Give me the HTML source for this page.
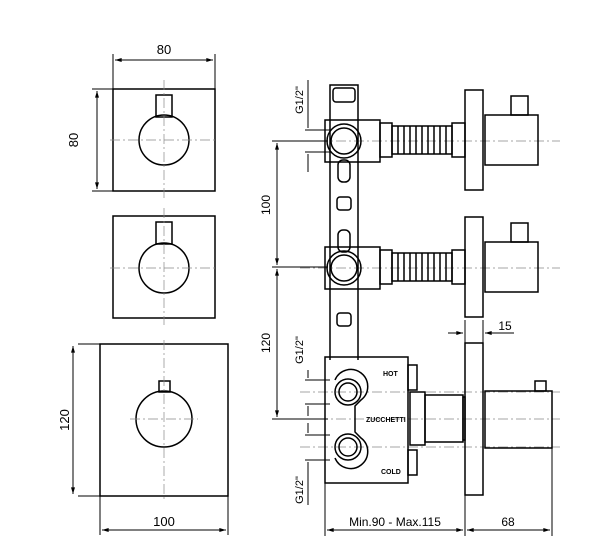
<!DOCTYPE html>
<html><head><meta charset="utf-8"><style>
html,body{margin:0;padding:0;background:#fff}
svg{display:block}
text{font-family:"Liberation Sans",sans-serif;fill:#000}
</style></head><body>
<svg width="616" height="547" viewBox="0 0 616 547" xmlns="http://www.w3.org/2000/svg">
<defs>
<marker id="a" viewBox="0 0 10 6" refX="10" refY="3" markerWidth="8" markerHeight="4" orient="auto-start-reverse"><path d="M0,0 L10,3 L0,6z" fill="#000"/></marker>
</defs>
<g fill="none" stroke="#000" stroke-width="1.5">
<!-- left squares -->
<rect x="113" y="89" width="102" height="102"/>
<circle cx="164" cy="140" r="25"/>
<rect x="156" y="95" width="16" height="22"/>
<rect x="113" y="216" width="102" height="102"/>
<circle cx="164" cy="268" r="25"/>
<rect x="156" y="222" width="16" height="22"/>
<rect x="100" y="344" width="128" height="152"/>
<circle cx="164" cy="419" r="28"/>
<rect x="159" y="381" width="11" height="11"/>
</g>
<g stroke="#888" stroke-width="0.7" stroke-dasharray="10,3,2,3" fill="none">
<path d="M164 80V200M110 140H218M164 208V325M110 268H218M164 340V500M130 419H198"/>
<path d="M300 141H560M300 268H560M300 392H560M300 447H560M300 419H560"/>
</g>
<!-- dimensions left -->
<g stroke="#000" stroke-width="1" fill="none">
<path d="M113 54V89M215 54V89M92 89H113M92 191H113M78 344H100M78 496H100M100 496V535M228 496V535"/>
<path d="M115 60H213" marker-start="url(#a)" marker-end="url(#a)"/>
<path d="M97 91V189" marker-start="url(#a)" marker-end="url(#a)"/>
<path d="M73 346V494" marker-start="url(#a)" marker-end="url(#a)"/>
<path d="M102 530H226" marker-start="url(#a)" marker-end="url(#a)"/>
</g>
<text x="164" y="54" font-size="13" text-anchor="middle">80</text>
<text x="0" y="0" font-size="13" text-anchor="middle" transform="translate(78,140) rotate(-90)">80</text>
<text x="0" y="0" font-size="13" text-anchor="middle" transform="translate(69,420) rotate(-90)">120</text>
<text x="164" y="526" font-size="13" text-anchor="middle">100</text>
<!-- right valve -->
<g fill="none" stroke="#000" stroke-width="1.5">
<path d="M330 360V85H358V360"/>
<rect x="333" y="88" width="22" height="14" rx="3"/>
<rect x="337" y="197" width="14" height="13" rx="3"/>
<rect x="337" y="313" width="14" height="13" rx="3"/>
<rect x="338" y="160" width="12" height="22" rx="5"/>
<rect x="338" y="230" width="12" height="22" rx="5"/>
<rect x="325" y="120" width="55" height="42"/>
<circle cx="344" cy="141" r="17"/><circle cx="344" cy="141" r="13"/>
<rect x="380" y="123" width="12" height="34"/>
<rect x="392" y="126" width="60" height="28"/>
<path d="M398 126V154M404 126V154M410 126V154M416 126V154M422 126V154M428 126V154M434 126V154M440 126V154M446 126V154"/>
<rect x="452" y="123" width="13" height="34"/>
<rect x="465" y="90" width="18" height="100"/>
<rect x="485" y="115" width="53" height="50"/>
<rect x="511" y="96" width="17" height="19"/>
<rect x="325" y="247" width="55" height="42"/>
<circle cx="344" cy="268" r="17"/><circle cx="344" cy="268" r="13"/>
<rect x="380" y="250" width="12" height="34"/>
<rect x="392" y="253" width="60" height="28"/>
<path d="M398 253V281M404 253V281M410 253V281M416 253V281M422 253V281M428 253V281M434 253V281M440 253V281M446 253V281"/>
<rect x="452" y="250" width="13" height="34"/>
<rect x="465" y="217" width="18" height="100"/>
<rect x="485" y="242" width="53" height="50"/>
<rect x="511" y="223" width="17" height="19"/>
<rect x="325" y="357" width="83" height="126"/>
<path d="M335 380A17 17 0 1 1 361 400L355 406V432L361 438A17 17 0 1 1 335 458"/>
<circle cx="348" cy="392" r="13"/><circle cx="348" cy="392" r="9"/>
<circle cx="348" cy="447" r="13"/><circle cx="348" cy="447" r="9"/>
<rect x="408" y="365" width="9" height="25"/>
<rect x="408" y="450" width="9" height="25"/>
<rect x="410" y="392" width="15" height="53"/>
<rect x="425" y="395" width="38" height="47"/>
<rect x="463" y="397" width="2" height="43"/>
<rect x="465" y="343" width="18" height="152"/>
<rect x="485" y="391" width="67" height="57"/>
<rect x="535" y="381" width="11" height="10"/>
</g>
<g font-size="7" font-weight="bold">
<text x="383" y="376">HOT</text>
<text x="366" y="422">ZUCCHETTI</text>
<text x="381" y="474">COLD</text>
</g>
<!-- right dims -->
<g stroke="#000" stroke-width="1" fill="none">
<path d="M272 141H328M272 267H328M272 419H328"/>
<path d="M277 143V265" marker-start="url(#a)" marker-end="url(#a)"/>
<path d="M277 269V417" marker-start="url(#a)" marker-end="url(#a)"/>
<path d="M305 130H330M305 152H330M308 80V128M308 154V172"/>
<path d="M305 380H330M305 404H330M305 435H330M305 460H330M308 370V378M308 406V416M308 423V433M308 462V505"/>
<path d="M325 483V536M465 495V536M552 448V536M465 320V343M483 320V343"/>
<path d="M327 530H463" marker-start="url(#a)" marker-end="url(#a)"/>
<path d="M467 530H550" marker-start="url(#a)" marker-end="url(#a)"/>
<path d="M448 333H463" marker-end="url(#a)"/>
<path d="M514 333H485" marker-end="url(#a)"/>
</g>
<text x="0" y="0" font-size="12" text-anchor="middle" transform="translate(270,205) rotate(-90)">100</text>
<text x="0" y="0" font-size="12" text-anchor="middle" transform="translate(270,343) rotate(-90)">120</text>
<text x="0" y="0" font-size="11" text-anchor="middle" transform="translate(303,100) rotate(-90)">G1/2"</text>
<text x="0" y="0" font-size="11" text-anchor="middle" transform="translate(303,350) rotate(-90)">G1/2"</text>
<text x="0" y="0" font-size="11" text-anchor="middle" transform="translate(303,490) rotate(-90)">G1/2"</text>
<text x="505" y="330" font-size="12" text-anchor="middle">15</text>
<text x="395" y="526" font-size="12" text-anchor="middle">Min.90 - Max.115</text>
<text x="508" y="526" font-size="12" text-anchor="middle">68</text>
</svg>
</body></html>
